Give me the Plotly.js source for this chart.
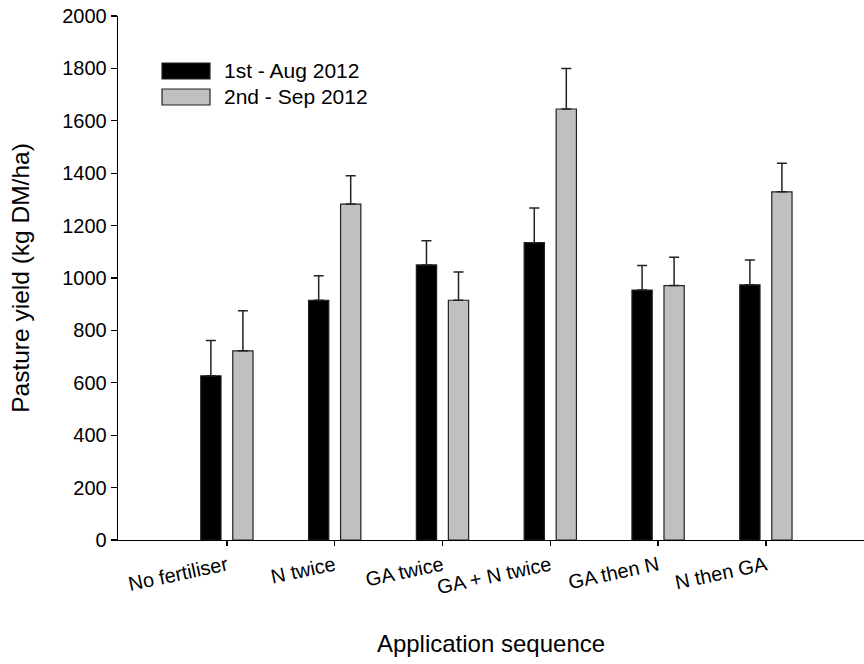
<!DOCTYPE html>
<html>
<head>
<meta charset="utf-8">
<script src="https://cdn.plot.ly/plotly-3.0.1.min.js"></script>
<style>html,body{margin:0;padding:0;background:#fff;}#chart{width:864px;height:664px;}</style>
</head>
<body>
<div id="chart"></div>
<script>
const categories = ["No fertiliser", "N twice", "GA twice", "GA + N twice", "GA then N", "N then GA"];
const augYield = [627, 915, 1050, 1135, 954, 974];
const augErr = [134, 94, 92, 132, 94, 95];
const sepYield = [722, 1282, 915, 1645, 971, 1329];
const sepErr = [153, 108, 108, 155, 108, 109];
const seriesNames = ["1st - Aug 2012", "2nd - Sep 2012"];
const yTicks = [0, 200, 400, 600, 800, 1000, 1200, 1400, 1600, 1800, 2000];

const FONT = '"Liberation Sans", Arial, Helvetica, sans-serif';
const colors = ['#000000', '#c0c0c0'];
const noneDown = categories.map(() => 0);

function barTrace(name, y, err, color) {
  return {
    type: 'bar', name: name, x: categories, y: y,
    marker: {color: color, line: {color: '#222222', width: 1.2}},
    error_y: {type: 'data', symmetric: false, array: err, arrayminus: noneDown,
              color: '#222222', thickness: 1.5, width: 5},
    showlegend: false, hoverinfo: 'x+y'
  };
}

const data = [
  barTrace(seriesNames[0], augYield, augErr, colors[0]),
  barTrace(seriesNames[1], sepYield, sepErr, colors[1])
];

// legend drawn as boxes + text (paper coordinates)
const legendRows = [{y0: 0.8798, y1: 0.9103}, {y0: 0.8302, y1: 0.8607}];
const shapes = legendRows.map((r, i) => ({
  type: 'rect', xref: 'paper', yref: 'paper', x0: 0.059, x1: 0.1233, y0: r.y0, y1: r.y1,
  fillcolor: colors[i], line: {color: '#222222', width: 1.2}
}));
const annotations = legendRows.map((r, i) => ({
  xref: 'paper', yref: 'paper', x: 0.1394, y: (r.y0 + r.y1) / 2,
  xanchor: 'left', yanchor: 'middle', showarrow: false,
  text: seriesNames[i], font: {family: FONT, size: 21, color: '#000'}
}));

const layout = {
  width: 864, height: 664,
  margin: {l: 118, r: 0, t: 16, b: 124, pad: 0},
  paper_bgcolor: '#fff', plot_bgcolor: '#fff',
  font: {family: FONT, color: '#000'},
  barmode: 'group', bargap: 0.406, bargroupgap: 0.367,
  showlegend: false,
  xaxis: {
    type: 'category', range: [-1.01, 5.91],
    showline: true, linecolor: '#000', linewidth: 1.3,
    ticks: 'outside', ticklen: 5, tickcolor: '#000', tickwidth: 1.3,
    tickangle: -12, tickfont: {family: FONT, size: 20, color: '#000'},
    showgrid: false, zeroline: false, automargin: false,
    title: {text: 'Application sequence', font: {family: FONT, size: 24, color: '#000'}, standoff: 38}
  },
  yaxis: {
    range: [0, 2000], tickvals: yTicks, ticktext: yTicks.map(String),
    showline: true, linecolor: '#000', linewidth: 1.3,
    ticks: 'outside', ticklen: 6, tickcolor: '#000', tickwidth: 1.3,
    tickfont: {family: FONT, size: 20, color: '#000'},
    showgrid: false, zeroline: false, automargin: false,
    title: {text: 'Pasture yield (kg DM/ha)', font: {family: FONT, size: 24.5, color: '#000'}, standoff: 25}
  },
  shapes: shapes,
  annotations: annotations
};

Plotly.newPlot('chart', data, layout, {displayModeBar: false, staticPlot: true});
</script>
</body>
</html>
